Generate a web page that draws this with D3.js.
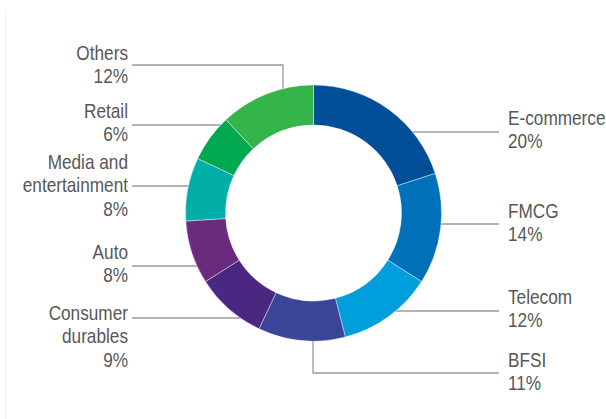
<!DOCTYPE html>
<html>
<head>
<meta charset="utf-8">
<script src="https://cdn.jsdelivr.net/npm/d3@7"></script>
<style>
  html, body { margin: 0; padding: 0; background: #fff; }
  svg { display: block; }
  .lbl { font-family: "Liberation Sans", Arial, sans-serif; font-size: 21px; fill: #575757; }
</style>
</head>
<body>
<svg class="container"></svg>
<script>
// sector shares (%), clockwise from 12 o'clock
const sectors = ['E-commerce', 'FMCG', 'Telecom', 'BFSI', 'Consumer durables', 'Auto', 'Media and entertainment', 'Retail', 'Others'];
const shares = [20, 14, 12, 11, 9, 8, 8, 6, 12];
const labelLines = [
  ['E-commerce'], ['FMCG'], ['Telecom'], ['BFSI'],
  ['Consumer', 'durables'], ['Auto'], ['Media and', 'entertainment'], ['Retail'], ['Others']
];
const colors = ['#014f99', '#0071b9', '#009edb', '#3a4598', '#4a2882', '#6c2a7f', '#00aea8', '#00a84f', '#35b44a'];

// label placement: side, leader y, first baseline, optional elbow x
const labelLayout = [
  { side: 'right', y: 132, base: 125 },
  { side: 'right', y: 224, base: 218 },
  { side: 'right', y: 311, base: 304 },
  { side: 'right', y: 373, base: 367, elbow: 313 },
  { side: 'left', y: 318, base: 320 },
  { side: 'left', y: 266, base: 259 },
  { side: 'left', y: 186, base: 169 },
  { side: 'left', y: 125, base: 118 },
  { side: 'left', y: 65, base: 60, elbow: 283 }
];

const w = 606, h = 419;
const cx = 313.5, cy = 213, outerR = 128, innerR = 88;
const lineH = 23.5;
const narrow = 0.82; // condensed look
const leftTextX = 128, leftLineX = 132, rightLineX = 499, rightTextX = 508;

const svg = d3.select('.container').attr('width', w).attr('height', h);

// faint frame line on the left
svg.append('line')
  .attr('x1', 5.5).attr('x2', 5.5).attr('y1', 11).attr('y2', h)
  .attr('stroke', '#eeeeee').attr('stroke-width', 1);

const data = sectors.map((s, i) => ({ name: s, value: shares[i], lines: labelLines[i], color: colors[i], lay: labelLayout[i] }));

const pie = d3.pie().value(d => d.value).sort(null);
const arcGen = d3.arc().innerRadius(innerR).outerRadius(outerR);

// leader lines (drawn under the donut)
const leaders = svg.append('g').attr('class', 'leaders');
data.forEach(d => {
  const L = d.lay;
  let pts;
  if (L.elbow !== undefined) {
    const dx = L.elbow - cx;
    const edgeY = L.y < cy ? cy - Math.sqrt(outerR * outerR - dx * dx) : cy + Math.sqrt(outerR * outerR - dx * dx);
    const endX = L.side === 'right' ? rightLineX : leftLineX;
    pts = [[L.elbow, edgeY], [L.elbow, L.y], [endX, L.y]];
  } else {
    const dy = L.y - cy;
    const off = Math.sqrt(outerR * outerR - dy * dy);
    pts = L.side === 'right' ? [[cx + off, L.y], [rightLineX, L.y]] : [[cx - off, L.y], [leftLineX, L.y]];
  }
  leaders.append('path')
    .attr('d', d3.line()(pts))
    .attr('fill', 'none')
    .attr('stroke', '#9b9b9b')
    .attr('stroke-width', 1.3);
});

// donut
svg.append('g')
  .attr('transform', `translate(${cx}, ${cy})`)
  .selectAll('path').data(pie(data)).join('path')
  .attr('d', arcGen)
  .attr('fill', d => d.data.color)
  .attr('stroke', '#ffffff')
  .attr('stroke-width', 0.4);

// labels
const labels = svg.append('g').attr('class', 'labels');
data.forEach(d => {
  const L = d.lay;
  const right = L.side === 'right';
  const t = labels.append('text')
    .attr('class', 'lbl')
    .attr('transform', `translate(${right ? rightTextX : leftTextX}, 0) scale(${narrow}, 1)`)
    .attr('text-anchor', right ? 'start' : 'end');
  const rows = d.lines.concat([d.value + '%']);
  rows.forEach((r, i) => {
    t.append('tspan')
      .attr('x', 0)
      .attr('y', L.base + i * lineH)
      .text(r);
  });
});
</script>
</body>
</html>
